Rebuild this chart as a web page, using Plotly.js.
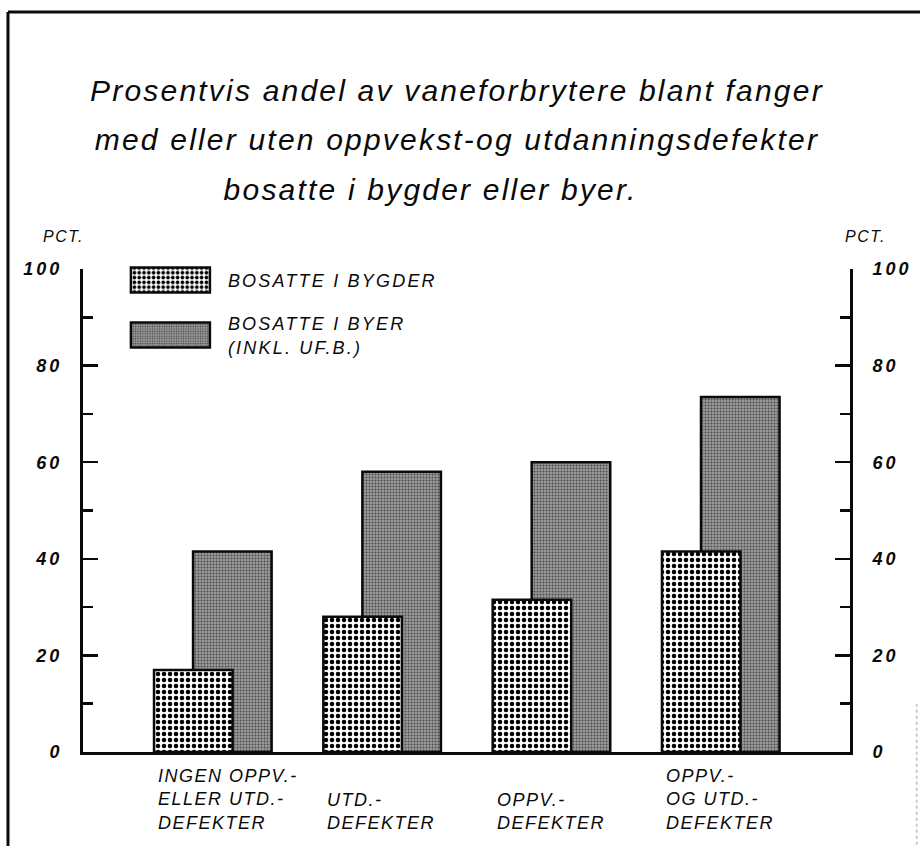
<!DOCTYPE html>
<html>
<head>
<meta charset="utf-8">
<script src="https://cdn.plot.ly/plotly-3.0.1.min.js"></script>
<style>
  html, body { margin: 0; padding: 0; background: #fff; }
  #chart { width: 920px; height: 846px; }
  .gtitle { letter-spacing: 2.2px; }
  .annotation-text { letter-spacing: 1.5px; }
  .ytick text, .y2tick text { letter-spacing: 3px; }
  .legendtext { letter-spacing: 2.2px; }
</style>
</head>
<body>
<div id="chart"></div>
<script>
// ---- data ----
const categories = [
  'INGEN OPPV.-<br>ELLER UTD.-<br>DEFEKTER',
  'UTD.-<br>DEFEKTER',
  'OPPV.-<br>DEFEKTER',
  'OPPV.-<br>OG UTD.-<br>DEFEKTER'
];
const seriesNames = ['BOSATTE I BYGDER', 'BOSATTE I BYER<br>(INKL. UF.B.)'];
const bygder = [17, 28, 31.5, 41.5];
const byer = [41.5, 58, 60, 73.5];
const yTickVals = [0, 20, 40, 60, 80, 100];
const yTickText = ['0', '20', '40', '60', '80', '100'];
const axisUnit = 'PCT.';
const titleLines = [
  'Prosentvis andel av vaneforbrytere blant fanger',
  'med eller uten oppvekst-og utdanningsdefekter',
  'bosatte i bygder eller byer.'
];

// ---- styling ----
const FONT = 'Liberation Sans, Arial, Helvetica, sans-serif';
const INK = '#0a0a0a';
const barWidth = 0.464;

const traces = [
  {
    type: 'bar', name: seriesNames[1], x: categories, y: byer,
    width: barWidth, offset: -0.118,
    legendgroup: 'b', legendrank: 2,
    marker: { color: '#8a8a8a', line: { color: INK, width: 2.5 },
      pattern: { shape: '.', fgcolor: '#4a4a4a', bgcolor: '#9c9c9c', size: 3, solidity: 0.35 } },
    hoverinfo: 'skip'
  },
  {
    type: 'bar', name: seriesNames[0], x: categories, y: bygder,
    width: barWidth, offset: -0.3485,
    legendgroup: 'a', legendrank: 1,
    marker: { color: '#ffffff', line: { color: INK, width: 2.5 },
      pattern: { shape: '.', fgcolor: '#000000', bgcolor: '#ffffff', size: 6, solidity: 0.45 } },
    hoverinfo: 'skip'
  },
  {
    // invisible trace to carry the right-hand axis
    type: 'scatter', x: [categories[0]], y: [0], yaxis: 'y2',
    mode: 'markers', marker: { opacity: 0 }, showlegend: false, hoverinfo: 'skip'
  }
];

const annotations = categories.map(c => ({
  text: c, x: c, xref: 'x', xshift: -57, xanchor: 'left',
  y: -0.172, yref: 'paper', yanchor: 'bottom', align: 'left',
  showarrow: false,
  font: { family: FONT, size: 18, style: 'italic', color: INK }
}));
annotations.push({
  text: axisUnit, x: -0.025, xref: 'paper', xanchor: 'center',
  y: 1.068, yref: 'paper', yanchor: 'middle', showarrow: false,
  font: { family: FONT, size: 16, style: 'italic', color: INK }
});
annotations.push({
  text: axisUnit, x: 1.02, xref: 'paper', xanchor: 'center',
  y: 1.068, yref: 'paper', yanchor: 'middle', showarrow: false,
  font: { family: FONT, size: 16, style: 'italic', color: INK }
});

const tickCommon = {
  range: [0, 100], tickmode: 'array', tickvals: yTickVals, ticktext: yTickText,
  ticks: 'inside', ticklen: 15, tickwidth: 2.5, tickcolor: INK,
  showline: true, linecolor: INK, linewidth: 3,
  showgrid: false, zeroline: false, fixedrange: true,
  tickfont: { family: FONT, size: 18, style: 'italic', weight: 'bold', color: INK },
  minor: { dtick: 10, tick0: 0, ticks: 'inside', ticklen: 10, tickwidth: 2.5, tickcolor: INK, showgrid: false }
};

const layout = {
  width: 920, height: 846,
  paper_bgcolor: '#ffffff', plot_bgcolor: '#ffffff',
  margin: { l: 83, r: 70, t: 269, b: 94, autoexpand: false },
  barmode: 'overlay',
  showlegend: true,
  title: {
    text: titleLines.map((t, i) => "<span style='font-size:30px'>" + t +
      (i === 2 ? '\u00A0\u00A0\u00A0\u00A0\u00A0' : '') + '</span>').join('<br>'),
    font: { family: FONT, size: 38, style: 'italic', color: INK },
    x: 0.4967, xref: 'container', xanchor: 'center',
    y: 0.8805, yref: 'container', yanchor: 'top'
  },
  xaxis: {
    type: 'category', range: [-0.768, 3.762],
    showticklabels: false, ticks: '', showgrid: false, zeroline: false,
    showline: true, linecolor: INK, linewidth: 3, fixedrange: true
  },
  yaxis: Object.assign({}, tickCommon, { side: 'left', ticklabelstandoff: 14 }),
  yaxis2: Object.assign({}, tickCommon, { side: 'right', overlaying: 'y', ticklabelstandoff: 16 }),
  legend: {
    x: 0.039, xanchor: 'left', y: 1.015, yanchor: 'top',
    bgcolor: 'rgba(0,0,0,0)', borderwidth: 0,
    traceorder: 'grouped', tracegroupgap: 17, itemwidth: 105,
    font: { family: FONT, size: 18, style: 'italic', color: INK }
  },
  annotations: annotations,
  shapes: [
    { type: 'line', xref: 'paper', yref: 'paper', x0: -0.0978, x1: -0.0978, y0: 1.532, y1: -0.2, line: { color: INK, width: 3 } },
    { type: 'line', xref: 'paper', yref: 'paper', x0: -0.0978, x1: 1.1, y0: 1.532, y1: 1.532, line: { color: INK, width: 3 } },
    { type: 'line', xref: 'paper', yref: 'paper', x0: 1.087, x1: 1.087, y0: 0.1, y1: -0.2, line: { color: '#c8c8c8', width: 2, dash: 'dot' } }
  ]
};

Plotly.newPlot('chart', traces, layout, { staticPlot: true, displayModeBar: false }).then(gd => {
  gd.querySelectorAll('.legend .traces .legendpoints path').forEach(p => {
    p.setAttribute('d', 'M39.5,12.5H-39.5V-12.5H39.5Z');
  });
});
</script>
</body>
</html>
